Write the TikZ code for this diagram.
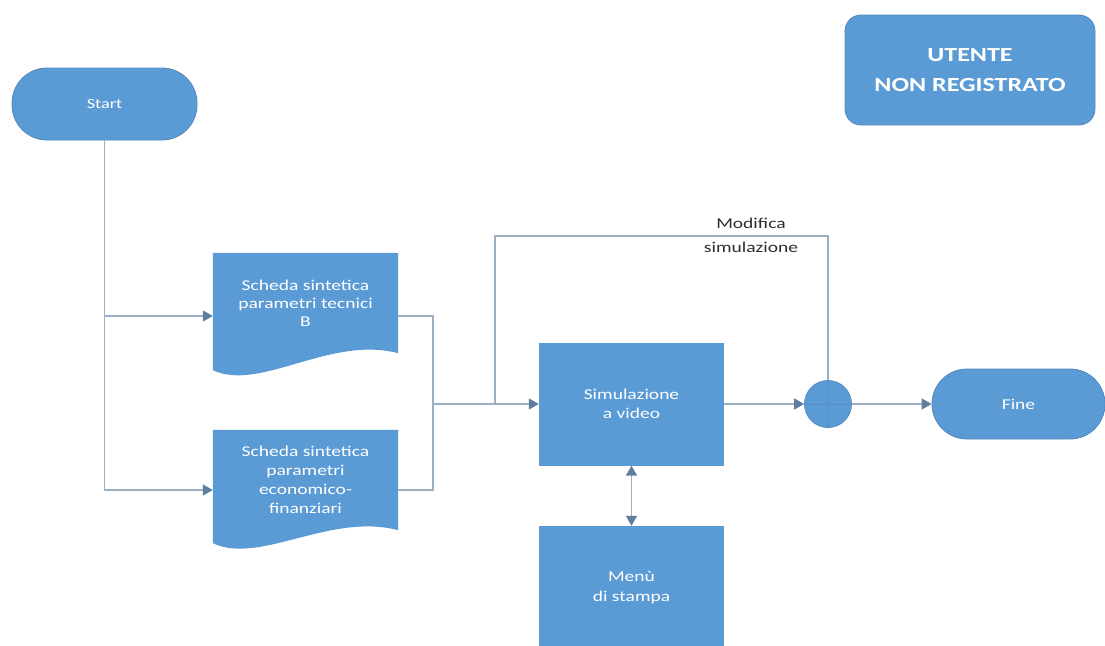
\documentclass[tikz,border=0pt]{standalone}
\usepackage{fontspec}
\setmainfont{Carlito}[FakeStretch=1.3]
\usetikzlibrary{arrows.meta,backgrounds,calc}
\definecolor{boxblue}{RGB}{91,155,213}
\definecolor{boxedge}{RGB}{80,138,192}
\definecolor{linec}{RGB}{155,174,194}
\definecolor{tipc}{RGB}{95,126,158}
\definecolor{labc}{RGB}{45,45,45}
\begin{document}
\begin{tikzpicture}[x=1pt,y=-1pt,
 every node/.style={font=\fontsize{15}{18}\selectfont, text=white, align=center, inner sep=0pt},
 term/.style={fill=boxblue, draw=boxedge, line width=0.8pt, rounded corners=35pt, minimum width=185pt, minimum height=72pt},
 procbox/.style={fill=boxblue, minimum width=185pt, minimum height=123pt},
 docbox/.style={minimum width=185pt, minimum height=100pt},
 conn/.style={draw=linec, line width=1.5pt},
 arr/.style={conn, -{Triangle[length=10pt,width=11pt,color=tipc]}},
 darr/.style={conn, {Triangle[length=10pt,width=11pt,color=tipc]}-{Triangle[length=10pt,width=11pt,color=tipc]}},
]
\useasboundingbox (0,0) rectangle (1105,645);
\clip (0,0) rectangle (1105,645);

% nodes
\node[term, font=\fontsize{14}{17}\selectfont] (start) at (104.5,104) {Start};
\node[term, minimum width=250pt, minimum height=110pt, rounded corners=16pt,
      font=\bfseries\fontsize{20}{30}\selectfont] (user) at (970,70) {UTENTE\\NON REGISTRATO};
\node[docbox] (d1) at (305.5,303) {Scheda sintetica\\parametri tecnici\\B};
\node[docbox, font=\fontsize{15}{19}\selectfont] (d2) at (305.5,480) {Scheda sintetica\\parametri\\economico-\\finanziari};
\node[procbox, font=\fontsize{15}{19}\selectfont] (sim) at (631.5,404) {Simulazione\\a video};
\node[procbox, font=\fontsize{15}{20}\selectfont] (menu) at (631.5,587.5) {Menù\\di stampa};
\node[circle, fill=boxblue, draw=boxedge, line width=0.8pt, minimum size=47pt] (jn) at (828,404) {};
\node[term, minimum width=173pt, minimum height=70pt] (fine) at (1018.5,404) {Fine};
\node[text=labc, font=\fontsize{15}{24}\selectfont] (lbl) at (751,235) {Modifica\\simulazione};

% document shapes
\begin{scope}[on background layer]
\fill[white] (0,0) rectangle (1105,645);
\fill[boxblue] (d1.north west) -- (d1.north east) -- (d1.south east)
  .. controls ($(d1.south east)+(-68,-18)$) and ($(d1.south west)+(47,39)$) .. ($(d1.south west)+(0,17)$) -- cycle;
\fill[boxblue] (d2.north west) -- (d2.north east) -- (d2.south east)
  .. controls ($(d2.south east)+(-68,-18)$) and ($(d2.south west)+(47,35)$) .. ($(d2.south west)+(0,13)$) -- cycle;
\end{scope}

% connectors
\coordinate (mj) at (433,404);
\coordinate (fb) at (495,404);
\coordinate (fbt) at (495,236);
\draw[arr] (start.south) |- ($(d1.west)+(0,13)$);
\draw[arr] (start.south) |- ($(d2.west)+(0,10)$);
\draw[conn] ($(d1.east)+(0,13)$) -| (mj);
\draw[conn] ($(d2.east)+(0,10)$) -| (mj);
\draw[arr] (mj) -- (sim.west);
\draw[conn] (fb) -- (fbt) -| (jn.north);
\draw[arr] (sim.east) -- (jn.west);
\draw[arr] (jn.east) -- (fine.west);
\draw[darr] (sim.south) -- (menu.north);
\draw[boxedge, line width=0.8pt, opacity=0.7] (jn.north) -- (jn.south) (jn.west) -- (jn.east);
\end{tikzpicture}
\end{document}
